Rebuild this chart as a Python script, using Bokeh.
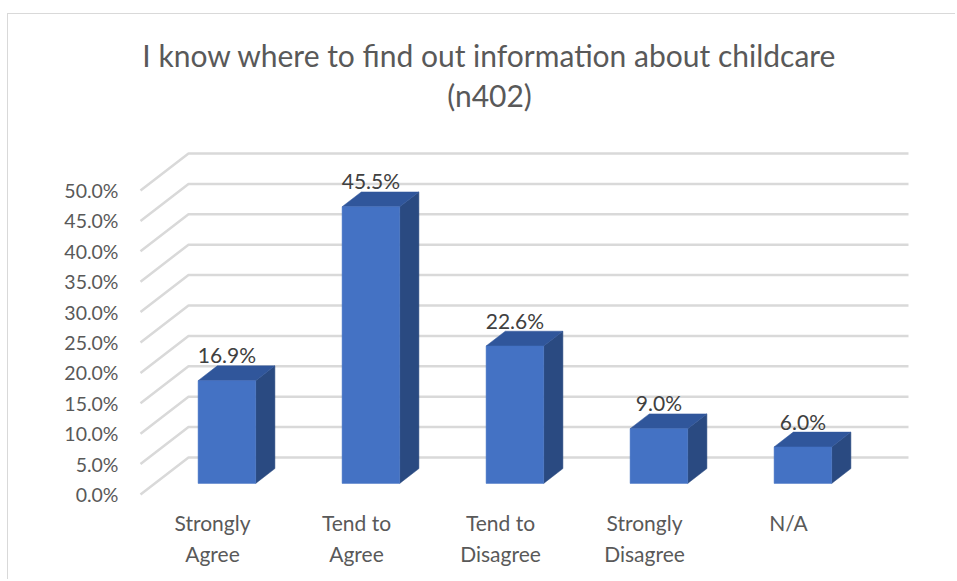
from bokeh.plotting import figure
from bokeh.models import Range1d, FixedTicker, LinearAxis, PrintfTickFormatter
from bokeh.core.properties import value
from bokeh.embed import file_html
from bokeh.resources import INLINE

# ---------------- data ----------------
categories = ["Strongly Agree", "Tend to Agree", "Tend to Disagree", "Strongly Disagree", "N/A"]
category_labels = ["Strongly\nAgree", "Tend to\nAgree", "Tend to\nDisagree", "Strongly\nDisagree", "N/A"]
percentages = [16.9, 45.5, 22.6, 9.0, 6.0]
y_ticks = [0, 5, 10, 15, 20, 25, 30, 35, 40, 45, 50]
title_lines = ["I know where to find out information about childcare", "(n402)"]

# ---------------- layout / projection ----------------
FONT = "Lato"
W, H = 948, 566
OX, OY = 8, 14                      # canvas origin in window pixels (after margin + border)
PX0, PXU = 140.0, 144.0             # window x of category 0 on front plane, px per category
PY0, PYU = 494.0, 6.08              # window y of 0% on front plane, px per percent
DEPTH_X = 48.0 / PXU                # full depth shift in category units
DEPTH_Y = 37.0 / PYU                # full depth shift in percent units
BAR_W = 0.40
BAR_D0, BAR_D1 = 0.30, 0.70

FRAME_L, FRAME_R = 130.0, OX + W
FRAME_T, FRAME_B = OY, 500.0

def cx(px):
    return (px - PX0) / PXU

def vy(py):
    return (PY0 - py) / PYU

def proj(c, v, d):
    return c + d * DEPTH_X, v + d * DEPTH_Y

p = figure(width=W, height=H,
           x_range=Range1d(cx(FRAME_L), cx(FRAME_R)),
           y_range=Range1d(vy(FRAME_B), vy(FRAME_T)),
           output_backend="svg", toolbar_location=None,
           x_axis_location=None, y_axis_location=None,
           min_border_left=int(FRAME_L - OX), min_border_right=0,
           min_border_top=0, min_border_bottom=int(OY + H - FRAME_B))
p.grid.visible = False
p.outline_line_color = None
p.background_fill_color = "white"
p.border_fill_color = "white"
p.styles = {"border-top": "1px solid #D9D9D9", "border-left": "1px solid #D9D9D9",
            "margin-top": "13px", "margin-left": "7px"}

# ---------------- walls / gridlines ----------------
n = len(categories)
gx, gy = [], []
for t in y_ticks:
    x0, y0 = proj(0, t, 0)
    x1, y1 = proj(0, t, 1)
    x2, y2 = proj(n, t, 1)
    gx.append([x0, x1, x2])
    gy.append([y0, y1, y2])
p.multi_line(gx, gy, line_color="#D9D9D9", line_width=2.5)

# ---------------- bars ----------------
FRONT, TOP, SIDE = "#4472C4", "#30569B", "#2A4A81"
fx, fy, sx, sy, tx, ty = [], [], [], [], [], []
lab_x, lab_y, lab_t = [], [], []
for i, val in enumerate(percentages):
    l, r = i + 0.5 - BAR_W / 2, i + 0.5 + BAR_W / 2
    front = [proj(l, 0, BAR_D0), proj(r, 0, BAR_D0), proj(r, val, BAR_D0), proj(l, val, BAR_D0)]
    side = [proj(r, 0, BAR_D0), proj(r, 0, BAR_D1), proj(r, val, BAR_D1), proj(r, val, BAR_D0)]
    top = [proj(l, val, BAR_D0), proj(r, val, BAR_D0), proj(r, val, BAR_D1), proj(l, val, BAR_D1)]
    fx.append([q[0] for q in front]); fy.append([q[1] for q in front])
    sx.append([q[0] for q in side]); sy.append([q[1] for q in side])
    tx.append([q[0] for q in top]); ty.append([q[1] for q in top])
    lab_x.append(proj(i + 0.5, val, BAR_D0)[0])
    lab_y.append(proj(i + 0.5, val, BAR_D1)[1])
    lab_t.append(f"{val:.1f}%")

p.patches(sx, sy, fill_color=SIDE, line_color=SIDE, line_width=0.5)
p.patches(tx, ty, fill_color=TOP, line_color=TOP, line_width=0.5)
p.patches(fx, fy, fill_color=FRONT, line_color=FRONT, line_width=0.5)

p.text(lab_x, lab_y, text=lab_t, text_font=value(FONT), text_font_size="21px",
       text_color="#404040", text_align="center", text_baseline="middle", y_offset=-11)

# ---------------- title ----------------
p.text([cx(489), cx(489)], [vy(54), vy(94)], text=title_lines, text_font=value(FONT),
       text_font_size="30px", text_color="#595959", text_align="center",
       text_baseline="middle")

# ---------------- axes ----------------
yaxis = LinearAxis(ticker=FixedTicker(ticks=y_ticks),
                   formatter=PrintfTickFormatter(format="%.1f%%"),
                   axis_line_color=None, major_tick_line_color=None,
                   minor_tick_line_color=None, major_tick_out=0, major_tick_in=0,
                   major_label_standoff=12,
                   major_label_text_font=FONT, major_label_text_font_size="19.5px",
                   major_label_text_color="#595959")
p.add_layout(yaxis, "left")

cat_ticks = [i + 0.5 for i in range(n)]
xaxis = LinearAxis(ticker=FixedTicker(ticks=cat_ticks),
                   major_label_overrides={t: lab for t, lab in zip(cat_ticks, category_labels)},
                   axis_line_color=None, major_tick_line_color=None,
                   minor_tick_line_color=None, major_tick_out=0, major_tick_in=0,
                   major_label_standoff=9,
                   major_label_text_font=FONT, major_label_text_font_size="21px",
                   major_label_text_color="#595959", major_label_text_line_height=1.27)
p.add_layout(xaxis, "below")

open("out.html", "w").write(file_html(p, INLINE))
